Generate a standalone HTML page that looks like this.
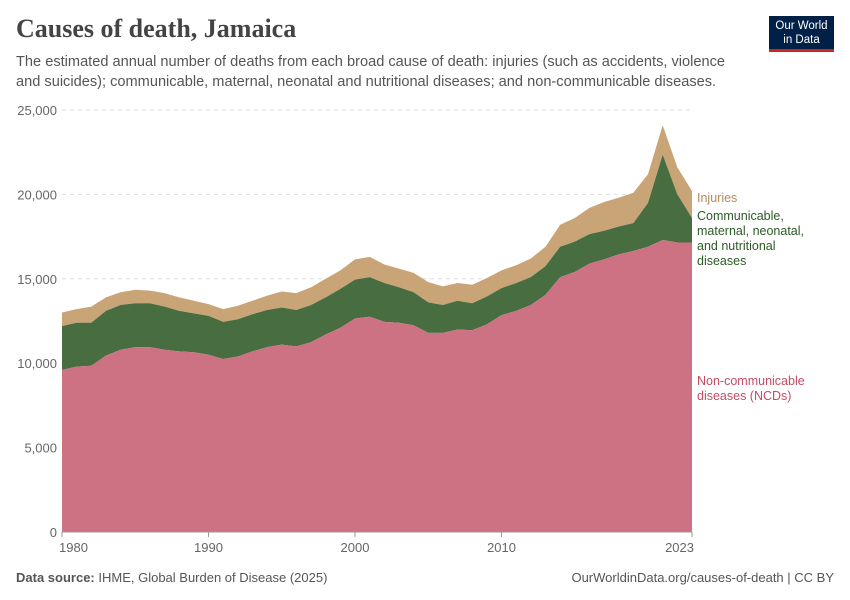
<!DOCTYPE html>
<html><head><meta charset="utf-8"><style>
body{margin:0;background:#fff;font-family:"Liberation Sans",sans-serif;}
#wrap{position:relative;width:850px;height:600px;overflow:hidden;}
.t{position:absolute;white-space:nowrap;}
</style></head><body>
<div id="wrap">
<div class="t" style="left:16px;top:14px;font-family:'Liberation Serif',serif;font-size:26px;color:#444;font-weight:bold;">Causes of death, Jamaica</div>
<div class="t" style="left:16px;top:52px;font-size:14.6px;color:#555;line-height:20px;">The estimated annual number of deaths from each broad cause of death: injuries (such as accidents, violence<br>and suicides); communicable, maternal, neonatal and nutritional diseases; and non-communicable diseases.</div>
<div style="position:absolute;left:769px;top:16px;width:65px;height:36px;background:#002147;border-bottom:3px solid #ce261e;color:#fff;font-size:11.5px;text-align:center;line-height:14px;padding-top:3px;box-sizing:border-box;">Our World<br>in Data</div>
<svg id="svg" width="850" height="600" style="position:absolute;left:0;top:0"></svg>
<div class="t" style="left:16px;top:570px;font-size:13px;color:#555;"><b>Data source:</b> IHME, Global Burden of Disease (2025)</div>
<div class="t" style="right:16px;top:570px;font-size:13px;color:#555;">OurWorldinData.org/causes-of-death | CC BY</div>
</div>
<script>
const years=[];for(let y=1980;y<=2023;y++)years.push(y);
const ncd=[9600,9800,9850,10450,10800,10950,10950,10800,10700,10650,10500,10250,10400,10700,10950,11100,11000,11250,11700,12100,12650,12750,12450,12400,12250,11800,11800,12000,11950,12300,12850,13100,13450,14050,15100,15400,15900,16150,16450,16650,16900,17300,17150,17150];
const communicable=[2600,2600,2550,2650,2650,2600,2600,2550,2400,2300,2300,2200,2200,2200,2200,2200,2150,2200,2200,2300,2300,2350,2300,2100,1950,1800,1650,1700,1600,1650,1600,1650,1650,1700,1800,1800,1750,1700,1650,1650,2600,5050,2850,1450];
const injuries=[800,800,950,800,750,800,750,800,800,750,700,750,800,800,850,950,1000,1050,1100,1100,1200,1200,1100,1100,1150,1200,1100,1050,1100,1100,1050,1050,1100,1150,1300,1400,1550,1700,1700,1800,1700,1750,1600,1600];
const yTicks=[0,5000,10000,15000,20000,25000];
const yTickLabels=["0","5,000","10,000","15,000","20,000","25,000"];
const xTicks=[1980,1990,2000,2010,2023];
const NS="http://www.w3.org/2000/svg";
const svg=document.getElementById('svg');
const X=y=>62+(y-1980)*(630/43);
const Y=v=>532-v*(422/25000);
function el(t,a){const e=document.createElementNS(NS,t);for(const k in a)e.setAttribute(k,a[k]);svg.appendChild(e);return e;}
yTicks.forEach((v,i)=>{
 if(v>0){const l=el('line',{x1:62,x2:692,y1:Y(v),y2:Y(v),stroke:'#ddd','stroke-dasharray':'4,4'});
 
 }
 const t=el('text',{x:57,y:Y(v)+5,'text-anchor':'end','font-size':13,fill:'#666','font-family':'Liberation Sans'});
 t.textContent=yTickLabels[i];
 
 
});
const s1=ncd, s2=ncd.map((v,i)=>v+communicable[i]), s3=s2.map((v,i)=>v+injuries[i]);
function area(top,bot,color,name){
 let d='M'+years.map((y,i)=>X(y)+','+Y(top[i])).join('L');
 for(let i=years.length-1;i>=0;i--)d+='L'+X(years[i])+','+Y(bot?bot[i]:0);
 const p=el('path',{d:d+'Z',fill:color});
 
 
}
area(s3,s2,'#c8a477','area-injuries');
area(s2,s1,'#486d40','area-communicable');
area(s1,null,'#cc7282','area-ncd');
const ax=el('line',{x1:62,x2:692,y1:532,y2:532,stroke:'#999'});


xTicks.forEach(yr=>{
 const tk=el('line',{x1:X(yr),x2:X(yr),y1:532,y2:537,stroke:'#999'});
 
 
 const t=el('text',{x:X(yr),y:552,'text-anchor':yr==1980?'start':(yr==2023?'end':'middle'),'font-size':13,fill:'#666','font-family':'Liberation Sans'});
 if(yr==1980)t.setAttribute('x',X(yr)-3);
 if(yr==2023)t.setAttribute('x',X(yr)+2);
 t.textContent=yr;
 
 
});
function lab(lines,y,color,name){
 const t=el('text',{x:697,y:y,'font-size':12.5,fill:color,'font-family':'Liberation Sans'});
 lines.forEach((s,i)=>{const ts=document.createElementNS(NS,'tspan');ts.setAttribute('x',697);ts.setAttribute('dy',i?15:0);ts.textContent=s;t.appendChild(ts);});
 
 
}
lab(['Injuries'],202,'#b8895a','legend-injuries');
lab(['Communicable,','maternal, neonatal,','and nutritional','diseases'],220,'#2d5a27','legend-communicable');
lab(['Non-communicable','diseases (NCDs)'],385,'#c24d63','legend-ncd');
</script>
</body></html>
